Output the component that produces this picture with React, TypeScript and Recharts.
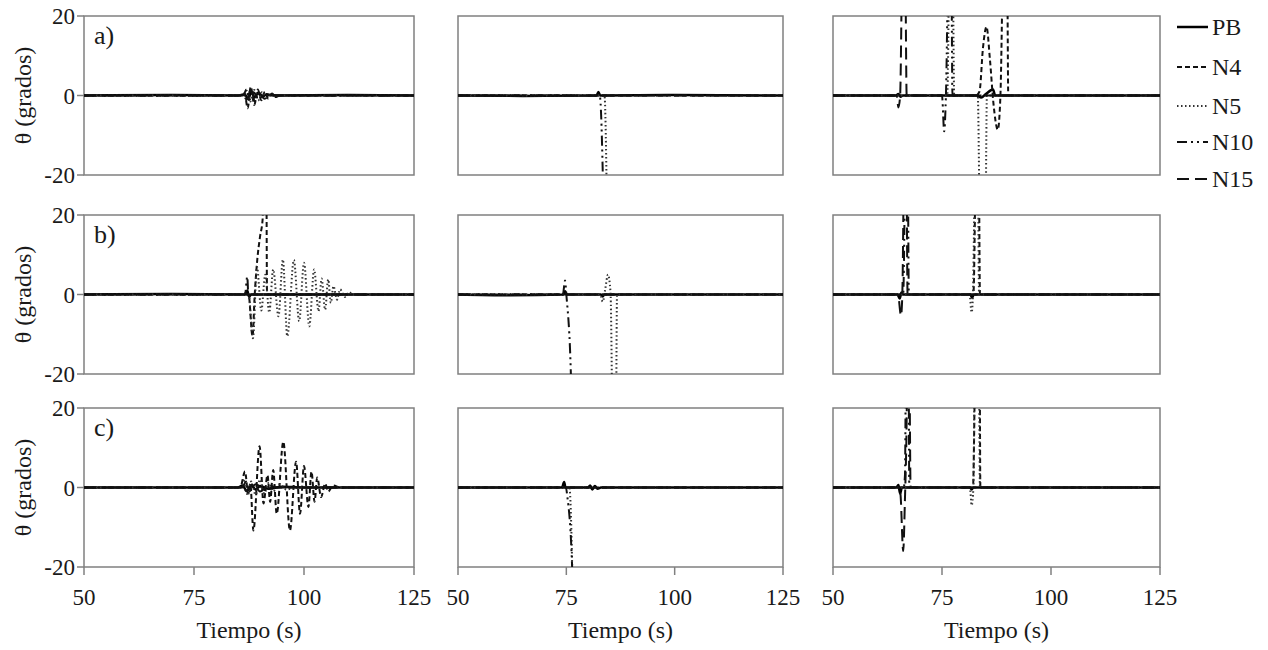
import { LineChart, Line, XAxis, YAxis, ReferenceArea } from "recharts";

// [tiempo (s), θ (grados)] pairs; values outside ±20 run off the panel
const FLAT = [[50, 0], [125, 0]];

// row a
const A1_PB = [[50, 0], [70, 0.1], [85, 0], [86.5, 0.3], [87.3, -0.8], [88, 0.8], [88.8, -0.5], [89.5, 0.6], [90.5, -0.4], [91.5, 0.3], [93, 0], [110, 0.1], [125, 0]];
const A1_N4 = [[50, 0], [85.5, 0], [86.5, 0.5], [87.2, -3.2], [87.9, 2.2], [88.7, -2.4], [89.5, 1.5], [90.3, -1.2], [91.1, 0.9], [91.9, -0.8], [92.7, 0.5], [93.5, -0.4], [94.5, 0], [125, 0]];
const A1_N5 = [[50, 0], [86, 0], [87, 1.2], [87.8, -1.5], [88.7, 1.4], [89.6, -1.2], [90.5, 0.9], [91.5, -0.6], [92.5, 0.4], [93.5, 0], [125, 0]];
const A1_N10 = [[50, 0], [86.2, 0], [86.9, 1.5], [87.6, -1], [88.5, 0.8], [89.5, -0.5], [90.5, 0], [125, 0]];
const A1_N15 = [[50, 0], [86, 0], [87, -1], [88, 1.8], [88.8, -1.5], [89.8, 0.7], [91, -0.8], [92.5, 0.3], [94, 0], [125, 0]];

const A2_PB = [[50, 0], [65, -0.1], [82, 0], [82.4, 0.9], [82.8, 0], [100, 0.1], [125, 0]];
const A2_N5 = [[50, 0], [83.8, 0], [84.5, -40]];
const A2_N10 = [[50, 0], [82.7, 0], [83.8, -40]];

const A3_PB = [[50, 0], [64.5, 0], [65, 0.4], [65.5, -0.3], [66, 0], [83, 0], [84, -0.5], [85, 0.3], [86.7, 1.5], [87.2, 0], [125, 0]];
const A3_N4 = [[50, 0], [82.8, 0], [83.6, 1], [84.4, 12], [85.2, 17.3], [86, 9], [86.8, -2], [87.8, -8.6], [88.4, 0], [89.2, 40], [89.9, 40], [90.2, 0], [125, 0]];
const A3_N5 = [[50, 0], [76.2, 0], [76.8, 40], [77.4, 40], [77.8, 0], [83.2, 0], [83.8, -40], [84.9, -40], [85.3, 0], [125, 0]];
const A3_N10 = [[50, 0], [75, 0], [75.5, -9], [75.9, 0], [76.6, 40], [77.1, 40], [77.4, 0], [125, 0]];
const A3_N15 = [[50, 0], [64.6, 0], [65, -3], [65.4, 0], [66, 40], [66.5, 40], [66.9, 0], [125, 0]];

// row b
const B1_PB = [[50, 0], [70, 0.1], [86.5, 0], [87.1, 1], [87.5, -0.5], [88, 0], [125, 0]];
const B1_N4 = [[50, 0], [86.8, 0], [87.4, 0], [88.3, -10.5], [88.8, 0], [89.4, 9], [90, 14.5], [90.6, 19], [91, 40], [91.4, 40], [91.6, 0], [125, 0]];
const B1_N5 = [[50, 0], [87.4, 0], [88.4, -11], [89.3, 7], [90.3, -4], [91.2, 5], [92.1, -4.5], [93, 6.3], [94.2, -5.5], [95.2, 8.8], [96.2, -10.5], [97.7, 8.7], [98.9, -6.7], [100, 8], [101.2, -8], [102.3, 6.3], [103.3, -4.2], [104, 4], [104.8, -3.8], [105.5, 3.8], [106.1, -2.1], [106.7, 2.1], [107.5, -1.3], [108.2, 1.3], [109.3, -0.6], [110.3, 0.6], [111, 0], [125, 0]];
const B1_N10 = [[50, 0], [86.6, 0], [87.1, 4.5], [87.4, -1], [87.8, 0], [125, 0]];

const B2_PB = [[50, 0], [62, -0.2], [74.3, 0], [74.7, 0.8], [75.1, 0], [83, 0], [83.4, -0.5], [83.8, 0], [125, 0]];
const B2_N5 = [[50, 0], [82.8, 0], [83.4, -1.8], [84, 1.5], [84.6, 5], [85.2, 0.5], [85.8, -40], [86.4, -40], [86.7, 0], [125, 0]];
const B2_N10 = [[50, 0], [74.2, 0], [74.7, 3.5], [75, 0], [76.1, -22], [76.3, -40]];

const B3_PB = [[50, 0], [64.8, 0], [65.3, -1], [65.7, 0.5], [66, 0], [81.5, 0], [81.9, -0.8], [82.3, 0], [125, 0]];
const B3_N4 = [[50, 0], [82.2, 0], [82.9, 40], [83.4, 40], [83.7, 0], [125, 0]];
const B3_N5 = [[50, 0], [81.3, 0], [81.8, -4.5], [82.1, 0], [82.7, 40], [83.2, 40], [83.5, 0], [125, 0]];
const B3_N10 = [[50, 0], [66.1, 0], [66.7, 40], [67.1, 40], [67.4, 0], [125, 0]];
const B3_N15 = [[50, 0], [64.9, 0], [65.6, -5.3], [65.9, 0], [66.4, 40], [66.8, 40], [67.1, 0], [125, 0]];

// row c
const C1_PB = [[50, 0], [85, 0], [86, 0.5], [87, -0.8], [88, 0.6], [89, -0.5], [90, 0.4], [92, -0.3], [95, 0.2], [100, 0], [125, 0]];
const C1_N4 = [[50, 0], [85.5, 0], [86.6, 4], [87.3, -1.5], [87.8, 1], [88.5, -10.8], [89.9, 10.4], [90.8, -4], [91.7, 3.1], [92.3, -3.6], [93, 4.4], [93.8, -6.6], [95.3, 11.5], [96.8, -10.8], [98.2, 6.5], [99.1, -6.6], [100, 5.4], [101, -4.9], [101.7, 4], [102.4, -3.6], [103, 2.5], [103.9, -2.4], [104.8, 1], [105.5, -1], [106.6, 0.5], [108.2, 0], [125, 0]];
const C1_N5 = [[50, 0], [85.8, 0], [86.5, 2], [87.2, -2], [88, 1.5], [89, -1.8], [90, 2], [91, -1.5], [92, 1.2], [93, -1], [94.5, 0.8], [96, -0.5], [98, 0], [125, 0]];
const C1_N10 = [[50, 0], [86, 0], [86.8, 1.5], [87.5, -1], [89, 0.8], [91, -0.6], [93, 0], [125, 0]];
const C1_N15 = [[50, 0], [86, 0], [87, -1], [88.5, 1], [90, -1], [92, 0.5], [94, 0], [125, 0]];

const C2_PB = [[50, 0], [74, 0], [74.5, 1.4], [74.8, 0], [80, 0], [80.5, 0.5], [81, -0.5], [81.6, 0.4], [82.2, -0.3], [83, 0], [125, 0]];
const C2_N5 = [[50, 0], [75.7, 0], [76.7, -40]];
const C2_N10 = [[50, 0], [74.9, 0], [75.2, -2], [76.4, -22], [76.6, -40]];

const C3_PB = [[50, 0], [64.5, 0], [65, 0.6], [65.4, -1.5], [65.8, 0], [81.4, 0], [81.8, -0.5], [82.2, 0], [125, 0]];
const C3_N4 = [[50, 0], [82.1, 0], [82.8, 40], [83.6, 40], [83.8, 0], [125, 0]];
const C3_N5 = [[50, 0], [81.4, 0], [81.8, -4.5], [82.2, 0], [82.6, 40], [83.4, 40], [83.7, 0], [125, 0]];
const C3_N10 = [[50, 0], [66.2, 0], [66.5, 3], [66.8, 40], [67.3, 40], [67.5, 0], [125, 0]];
const C3_N15 = [[50, 0], [65.2, 0], [65.5, -2], [66.1, -16], [66.5, -3], [66.8, 10], [67.1, 30], [67.5, 30], [67.8, 0], [125, 0]];

const X_TICKS = [50, 75, 100, 125];
const Y_TICKS = [-20, 0, 20];
const SERIES_NAMES = ["PB", "N4", "N5", "N10", "N15"];
const ROW_LETTERS = ["a)", "b)", "c)"];

const PANEL_DATA = [
  [A1_PB, A1_N4, A1_N5, A1_N10, A1_N15],
  [A2_PB, FLAT, A2_N5, A2_N10, FLAT],
  [A3_PB, A3_N4, A3_N5, A3_N10, A3_N15],
  [B1_PB, B1_N4, B1_N5, B1_N10, FLAT],
  [B2_PB, FLAT, B2_N5, B2_N10, FLAT],
  [B3_PB, B3_N4, B3_N5, B3_N10, B3_N15],
  [C1_PB, C1_N4, C1_N5, C1_N10, C1_N15],
  [C2_PB, FLAT, C2_N5, C2_N10, FLAT],
  [C3_PB, C3_N4, C3_N5, C3_N10, C3_N15],
];

const STYLES = {
  PB: { dash: undefined, width: 2.5, color: "#000" },
  N4: { dash: "5 3", width: 2, color: "#111" },
  N5: { dash: "1.5 2.5", width: 2, color: "#333" },
  N10: { dash: "10 4 2 4 2 4", width: 2, color: "#111" },
  N15: { dash: "12 6", width: 2, color: "#111" },
};

const FONT = "Times New Roman, Liberation Serif, Tinos, DejaVu Serif, serif";
const TEXT = "#1a1a1a";
const FRAME = "#808080";

const COL_X = [84, 458, 833];
const COL_W = [330, 325, 327];
const ROW_Y = [16, 215, 408];
const PLOT_H = 159;
const AXIS_W = 84;
const TOP = 12;
const RIGHT = 40;
const BOTTOM = 14;
const X_AXIS_H = 71;

const toPoints = (pairs: number[][]) => pairs.map(([t, v]) => ({ t, v }));

function YTitle(props: any) {
  const vb = props.viewBox || { y: 0, height: 0 };
  const cy = vb.y + vb.height / 2;
  return (
    <text
      x={23}
      y={cy}
      transform={`rotate(-90 23 ${cy})`}
      textAnchor="middle"
      dominantBaseline="central"
      fontSize={24}
      fontFamily={FONT}
      fill={TEXT}
    >
      θ (grados)
    </text>
  );
}

function Panel({ row, col }: { row: number; col: number }) {
  const series = PANEL_DATA[row * 3 + col];
  const width = AXIS_W + COL_W[col] + RIGHT;
  const height = TOP + PLOT_H + X_AXIS_H + BOTTOM;

  return (
    <div
      style={{
        position: "absolute",
        left: COL_X[col] - AXIS_W,
        top: ROW_Y[row] - TOP,
      }}
    >
      <LineChart
        width={width}
        height={height}
        margin={{ top: TOP, right: RIGHT, bottom: BOTTOM, left: 0 }}
        style={{ fontFamily: FONT }}
      >
        <XAxis
          dataKey="t"
          type="number"
          domain={[50, 125]}
          allowDataOverflow
          ticks={X_TICKS}
          interval={0}
          height={X_AXIS_H}
          axisLine={false}
          tickLine={{ stroke: FRAME, strokeWidth: 1.5 }}
          tickSize={8}
          tickMargin={14}
          tick={row === 2 ? { fill: TEXT, fontSize: 23, fontFamily: FONT } : false}
          label={
            row === 2
              ? {
                  value: "Tiempo (s)",
                  position: "insideBottom",
                  offset: 0,
                  fontSize: 24,
                  fontFamily: FONT,
                  fill: TEXT,
                }
              : undefined
          }
        />
        <YAxis
          type="number"
          domain={[-20, 20]}
          allowDataOverflow
          ticks={Y_TICKS}
          interval={0}
          width={AXIS_W}
          axisLine={false}
          tickLine={{ stroke: FRAME, strokeWidth: 1.5 }}
          tickSize={7}
          tickMargin={2}
          tick={col === 0 ? { fill: TEXT, fontSize: 23, fontFamily: FONT } : false}
          label={col === 0 ? { content: YTitle } : undefined}
        />
        <ReferenceArea
          x1={50}
          x2={125}
          y1={-20}
          y2={20}
          fill="none"
          stroke={FRAME}
          strokeWidth={1.5}
          label={
            col === 0
              ? {
                  value: ROW_LETTERS[row],
                  position: "insideTopLeft",
                  offset: 10,
                  fontSize: 26,
                  fontFamily: FONT,
                  fill: TEXT,
                }
              : undefined
          }
        />
        {SERIES_NAMES.map((name, i) => {
          const s = STYLES[name as keyof typeof STYLES];
          return (
            <Line
              key={name}
              data={toPoints(series[i])}
              dataKey="v"
              name={name}
              type="monotone"
              stroke={s.color}
              strokeWidth={s.width}
              strokeDasharray={s.dash}
              dot={false}
              activeDot={false}
              isAnimationActive={false}
            />
          );
        })}
      </LineChart>
    </div>
  );
}

const LEGEND_Y = [27, 67, 106, 142, 179];

function SeriesLegend() {
  return (
    <svg
      width={98}
      height={200}
      style={{ position: "absolute", left: 1170, top: 0 }}
    >
      {SERIES_NAMES.map((name, i) => {
        const s = STYLES[name as keyof typeof STYLES];
        return (
          <g key={name}>
            <line
              x1={7}
              x2={38}
              y1={LEGEND_Y[i]}
              y2={LEGEND_Y[i]}
              stroke={s.color}
              strokeWidth={s.width}
              strokeDasharray={s.dash}
            />
            <text
              x={42}
              y={LEGEND_Y[i]}
              dominantBaseline="central"
              fontSize={24}
              fontFamily={FONT}
              fill={TEXT}
            >
              {name}
            </text>
          </g>
        );
      })}
    </svg>
  );
}

export default function App() {
  return (
    <div
      style={{
        position: "absolute",
        left: 0,
        top: 0,
        width: 1268,
        height: 650,
        background: "#fff",
        overflow: "hidden",
        fontFamily: FONT,
      }}
    >
      {[0, 1, 2].map((row) =>
        [0, 1, 2].map((col) => <Panel key={`${row}-${col}`} row={row} col={col} />)
      )}
      <SeriesLegend />
    </div>
  );
}
